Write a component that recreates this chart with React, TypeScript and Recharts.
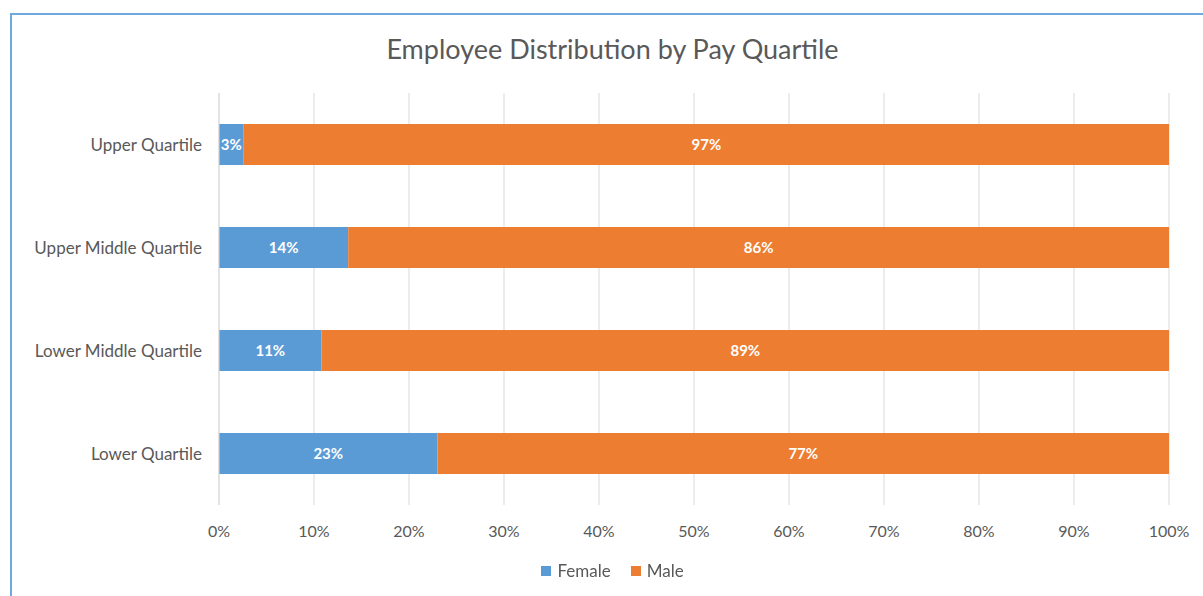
import React from 'react';
import { BarChart, Bar, XAxis, YAxis, CartesianGrid, Legend, LabelList } from 'recharts';

const quartiles = ['Upper Quartile', 'Upper Middle Quartile', 'Lower Middle Quartile', 'Lower Quartile'];
const femaleShare = [2.6, 13.6, 10.8, 23];
const maleShare = [97.4, 86.4, 89.2, 77];
const xTicks = [0, 10, 20, 30, 40, 50, 60, 70, 80, 90, 100];
const seriesColors = { Female: '#5B9BD5', Male: '#ED7D31' };

const chartData = quartiles.map((q, i) => ({
  quartile: q,
  Female: femaleShare[i],
  Male: maleShare[i],
}));

const FONT = 'Lato, "Open Sans", sans-serif';
const TEXT = '#595959';

const pct = (v: any) => `${Math.round(Number(v))}%`;

const LegendBox = () => (
  <div style={{ display: 'flex', justifyContent: 'center', alignItems: 'center', fontSize: 17, color: TEXT, fontFamily: FONT }}>
    {Object.entries(seriesColors).map(([name, color], i) => (
      <div key={name} style={{ display: 'flex', alignItems: 'center', marginLeft: i ? 20 : 0 }}>
        <span style={{ display: 'inline-block', width: 10, height: 10, background: color, marginRight: 6 }} />
        <span>{name}</span>
      </div>
    ))}
  </div>
);

export default function App() {
  return (
    <div style={{ position: 'fixed', left: 0, top: 0, width: 1203, height: 596, background: '#fff', fontFamily: FONT }}>
      <div
        style={{
          position: 'absolute',
          left: 10,
          top: 13,
          right: 0,
          bottom: 0,
          borderLeft: '2px solid #6FA8DC',
          borderTop: '2px solid #6FA8DC',
        }}
      />
      <div
        style={{
          position: 'absolute',
          top: 32,
          left: 0,
          width: 1225,
          textAlign: 'center',
          fontSize: 27,
          color: TEXT,
        }}
      >
        Employee Distribution by Pay Quartile
      </div>
      <div style={{ position: 'absolute', left: 0, top: 0 }}>
        <BarChart
          width={1203}
          height={596}
          data={chartData}
          layout="vertical"
          barCategoryGap="30%"
          margin={{ top: 93, right: 34, bottom: 30, left: 19 }}
        >
          <CartesianGrid horizontal={false} stroke="#D9D9D9" />
          <XAxis
            type="number"
            domain={[0, 100]}
            ticks={xTicks}
            tickFormatter={pct}
            axisLine={false}
            tickLine={false}
            height={40}
            tick={{ fill: TEXT, fontSize: 16, fontFamily: FONT }}
            tickMargin={15}
          />
          <YAxis
            type="category"
            dataKey="quartile"
            width={200}
            axisLine={{ stroke: '#D9D9D9' }}
            tickLine={false}
            tick={{ fill: TEXT, fontSize: 17, fontFamily: FONT }}
            tickMargin={11}
          />
          <Legend
            verticalAlign="bottom"
            align="center"
            content={<LegendBox />}
            wrapperStyle={{ top: 560, left: 0, width: 1225 }}
          />
          <Bar dataKey="Female" stackId="a" fill={seriesColors.Female} isAnimationActive={false}>
            <LabelList
              dataKey="Female"
              position="center"
              formatter={pct}
              style={{ fill: '#fff', fontWeight: 700, fontSize: 15, fontFamily: FONT }}
            />
          </Bar>
          <Bar dataKey="Male" stackId="a" fill={seriesColors.Male} isAnimationActive={false}>
            <LabelList
              dataKey="Male"
              position="center"
              formatter={pct}
              style={{ fill: '#fff', fontWeight: 700, fontSize: 15, fontFamily: FONT }}
            />
          </Bar>
        </BarChart>
      </div>
    </div>
  );
}
